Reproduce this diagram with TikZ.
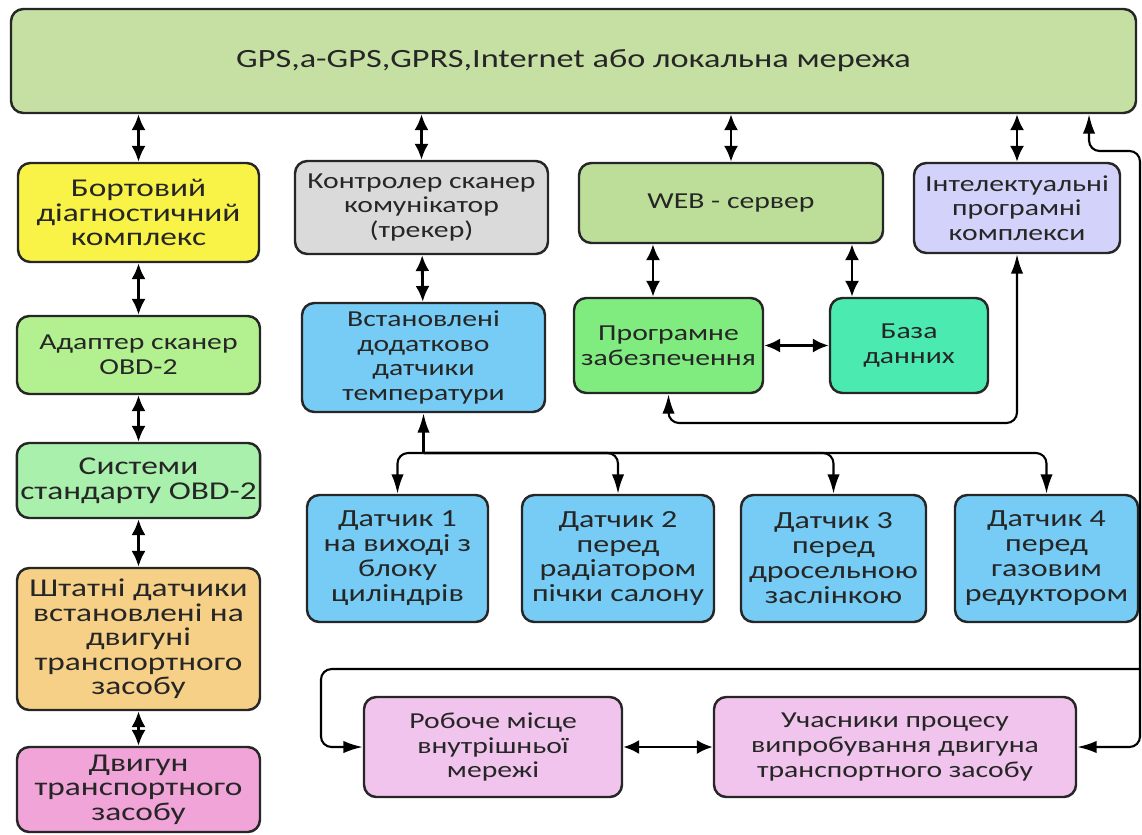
\documentclass[tikz,border=0pt]{standalone}
\usepackage{fontspec}
\setmainfont[FakeStretch=1.3]{Carlito}
\usetikzlibrary{arrows.meta}

\definecolor{netgreen}{RGB}{198,224,164}
\definecolor{boardyellow}{RGB}{248,243,70}
\definecolor{ctrlgrey}{RGB}{218,218,218}
\definecolor{webgreen}{RGB}{188,222,152}
\definecolor{intellilac}{RGB}{210,210,250}
\definecolor{adaptgreen}{RGB}{178,240,144}
\definecolor{sensorblue}{RGB}{118,204,244}
\definecolor{softgreen}{RGB}{128,236,128}
\definecolor{basemint}{RGB}{74,234,176}
\definecolor{obdmint}{RGB}{168,240,172}
\definecolor{stockorange}{RGB}{246,208,134}
\definecolor{enginepink}{RGB}{240,164,216}
\definecolor{userpink}{RGB}{240,196,236}

\newcommand{\boxfont}{\fontsize{13}{14}\selectfont}
\newcommand{\bigboxfont}{\fontsize{14.6}{14}\selectfont}
\newcommand{\sensorfont}{\fontsize{14}{14.2}\selectfont}

\begin{document}
\begin{tikzpicture}[
    box/.style={draw=black!85, line width=1.4pt, rounded corners=7pt, align=center, inner sep=2pt, font=\boxfont, text=black!85},
    biarrow/.style={{Latex[length=9pt,width=8pt]}-{Latex[length=9pt,width=8pt]}, line width=1.6pt},
    arrow/.style={-{Latex[length=11pt,width=7pt]}, line width=1.2pt, rounded corners=6pt},
    twoway/.style={{Latex[length=11pt,width=7pt]}-{Latex[length=11pt,width=7pt]}, line width=1.2pt, rounded corners=6pt},
]
\useasboundingbox (0,0) rectangle (22.84,-16.68);

% network and first row
\node[box, fill=netgreen, minimum width=22.5cm, minimum height=2.08cm, font=\fontsize{15}{17}\selectfont] (net) at (11.47,-1.22) {GPS,a-GPS,GPRS,Internet або локальна мережа};
\node[box, fill=boardyellow, minimum width=4.82cm, minimum height=1.98cm, font=\bigboxfont] (bort) at (2.77,-4.25) {Бортовий\\діагностичний\\комплекс};
\node[box, fill=ctrlgrey, minimum width=5.06cm, minimum height=1.86cm] (ctrl) at (8.43,-4.15) {Контролер сканер\\комунікатор\\(трекер)};
\node[box, fill=webgreen, minimum width=6.08cm, minimum height=1.6cm] (web) at (14.62,-4.06) {WEB - сервер};
\node[box, fill=intellilac, minimum width=4.12cm, minimum height=1.8cm] (intel) at (20.34,-4.16) {Інтелектуальні\\програмні\\комплекси};

% second row
\node[box, fill=adaptgreen, minimum width=4.86cm, minimum height=1.56cm] (adapt) at (2.77,-7.10) {Адаптер сканер\\OBD-2};
\node[box, fill=sensorblue, minimum width=4.86cm, minimum height=2.18cm] (vstan) at (8.47,-7.15) {Встановлені\\додатково\\датчики\\температури};
\node[box, fill=softgreen, minimum width=3.78cm, minimum height=1.9cm] (prog) at (13.37,-6.91) {Програмне\\забезпечення};
\node[box, fill=basemint, minimum width=3.16cm, minimum height=1.9cm] (baza) at (18.18,-6.91) {База\\данних};

% left column
\node[box, fill=obdmint, minimum width=4.86cm, minimum height=1.5cm, font=\bigboxfont] (syst) at (2.77,-9.61) {Системи\\стандарту OBD-2};
\node[box, fill=stockorange, minimum width=4.86cm, minimum height=2.84cm, font=\bigboxfont] (shtat) at (2.77,-12.78) {Штатні датчики\\встановлені на\\двигуні\\транспортного\\засобу};
\node[box, fill=enginepink, minimum width=4.86cm, minimum height=1.7cm, font=\bigboxfont] (dvyg) at (2.77,-15.79) {Двигун\\транспортного\\засобу};

% sensors
\node[box, fill=sensorblue, minimum width=3.62cm, minimum height=2.54cm, font=\sensorfont] (d1) at (7.95,-11.17) {Датчик 1\\на виході з\\блоку\\циліндрів};
\node[box, fill=sensorblue, minimum width=3.84cm, minimum height=2.54cm, font=\sensorfont] (d2) at (12.36,-11.17) {Датчик 2\\перед\\радіатором\\пічки салону};
\node[box, fill=sensorblue, minimum width=3.7cm, minimum height=2.54cm, font=\sensorfont] (d3) at (16.67,-11.17) {Датчик 3\\перед\\дросельною\\заслінкою};
\node[box, fill=sensorblue, minimum width=3.66cm, minimum height=2.54cm, font=\sensorfont] (d4) at (20.93,-11.17) {Датчик 4\\перед\\газовим\\редуктором};

% users
\node[box, fill=userpink, minimum width=5.16cm, minimum height=2.0cm] (rob) at (9.86,-14.94) {Робоче місце\\внутрішньої\\мережі};
\node[box, fill=userpink, minimum width=7.24cm, minimum height=2.0cm] (uch) at (17.9,-14.94) {Учасники процесу\\випробування двигуна\\транспортного засобу};

\coordinate (hub) at (8.47,-9.06);
\coordinate (back) at (13.37,-8.46);
\coordinate (bus) at (22.8,-13.38);
\coordinate (turn) at (21.78,-3.02);
\coordinate (loop) at (6.42,-14.94);

\draw[biarrow] (net.south -| bort.north) -- (bort.north);
\draw[biarrow] (net.south -| ctrl.north) -- (ctrl.north);
\draw[biarrow] (net.south -| web.north) -- (web.north);
\draw[biarrow] (net.south -| intel.north) -- (intel.north);
\draw[biarrow] (bort) -- (adapt);
\draw[biarrow] (adapt) -- (syst);
\draw[biarrow] (syst) -- (shtat);
\draw[biarrow] (shtat) -- (dvyg);
\draw[biarrow] (ctrl) -- (vstan);
\draw[biarrow] ([xshift=-0.31cm]prog.north |- web.south) -- ([xshift=-0.31cm]prog.north);
\draw[biarrow] ([xshift=-1.14cm]baza.north |- web.south) -- ([xshift=-1.14cm]baza.north);
\draw[biarrow] (prog) -- (baza);
\draw[biarrow] (rob) -- (uch);

\draw[twoway] (intel.south) |- (back) -- (prog.south);
\draw[arrow] (hub) -- (vstan.south);
\foreach \d in {d1,d2,d3,d4}
  \draw[arrow] (hub) -| (\d.north);

\draw[arrow] (bus) |- (uch.east);
\draw[arrow] (bus) |- (turn) -- (turn |- net.south);
\draw[arrow] (bus) -| (loop) -- (rob.west);
\end{tikzpicture}
\end{document}
